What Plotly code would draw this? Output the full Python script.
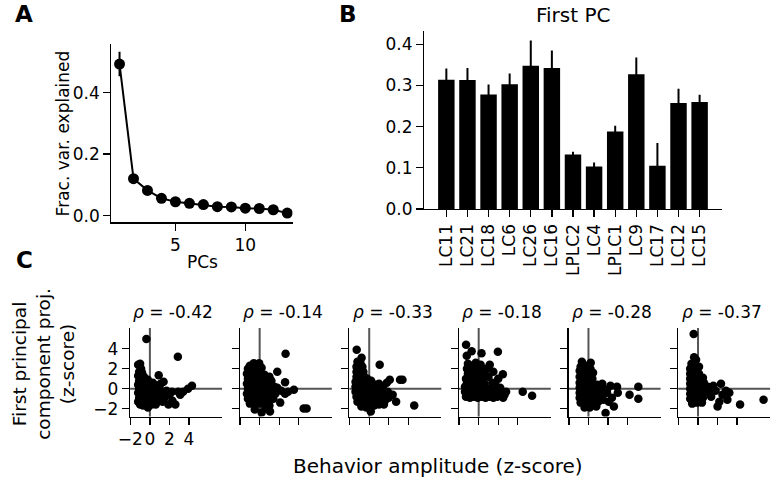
import plotly.graph_objects as go

W, H = 771, 487
FONT = "DejaVu Sans"

# ---------------- data ----------------
pcs = list(range(1, 14))
frac_var = [0.493, 0.120, 0.082, 0.056, 0.045, 0.040, 0.036, 0.029, 0.028, 0.024, 0.023, 0.019, 0.008]
frac_err = [0.040, 0.008, 0.005, 0.004, 0.003, 0.003, 0.002, 0.002, 0.002, 0.002, 0.002, 0.002, 0.002]

cell_types = ["LC11", "LC21", "LC18", "LC6", "LC26", "LC16", "LPLC2", "LC4", "LPLC1", "LC9", "LC17", "LC12", "LC15"]
first_pc = [0.3135, 0.313, 0.278, 0.303, 0.348, 0.342, 0.132, 0.103, 0.188, 0.327, 0.105, 0.257, 0.2595]
first_pc_err = [0.0275, 0.029, 0.024, 0.026, 0.061, 0.043, 0.007, 0.010, 0.014, 0.041, 0.055, 0.035, 0.0175]

rho_labels = ["-0.42", "-0.14", "-0.33", "-0.18", "-0.28", "-0.37"]

s1 = [(-1.2,2.4),(-1.0,2.5),(-0.9,2.0),(-1.1,1.7),(-0.8,1.6),(-1.2,1.3),(-0.9,1.1),(-0.6,1.2),(-1.1,0.8),(-0.8,0.7),
      (-0.5,0.8),(-0.2,0.9),(-1.2,0.4),(-0.9,0.3),(-0.6,0.4),(-0.3,0.3),(0.0,0.5),(0.3,0.6),(-1.1,0.0),(-0.8,-0.1),
      (-0.5,0.0),(-0.2,-0.1),(0.1,0.1),(0.4,0.2),(0.7,0.3),(-1.2,-0.4),(-0.9,-0.5),(-0.6,-0.4),(-0.3,-0.5),(0.0,-0.3),
      (0.3,-0.4),(0.6,-0.2),(-1.1,-0.9),(-0.8,-0.8),(-0.5,-0.9),(-0.2,-0.8),(0.1,-0.7),(0.4,-0.8),(0.8,-0.6),(-1.2,-1.3),
      (-0.9,-1.2),(-0.6,-1.3),(-0.3,-1.2),(0.0,-1.1),(0.3,-1.3),(-1.0,-1.6),(-0.7,-1.7),(-0.4,-1.6),(-0.2,-1.9),(0.2,-1.6),
      (0.6,-1.6),(0.9,1.35),(1.4,0.7),(1.0,0.0),(1.2,-0.4),(1.5,-0.9),(1.3,-1.3),(1.9,-1.6),(2.6,-1.6),(2.3,-1.2),
      (2.0,-0.6),(2.25,-0.3),(2.9,-0.3),(3.1,-0.6),(3.4,-0.3),(3.9,0.0),(4.3,0.3),(1.7,-0.2),(0.9,-1.0),(1.1,0.5),
      (-0.36,5.0),(2.86,3.2)]
s2 = [(-1.0,2.3),(-0.6,2.55),(-0.05,2.55),(-1.2,2.0),(-0.8,1.9),(-0.3,2.0),(0.2,2.1),(-1.3,1.5),(-0.9,1.4),(-0.5,1.5),
      (0.0,1.6),(0.5,1.4),(1.0,1.2),(1.8,1.7),(-1.2,1.0),(-0.8,0.9),(-0.4,1.0),(0.1,1.0),(0.6,0.9),(1.2,0.8),
      (-1.3,0.5),(-0.9,0.4),(-0.5,0.5),(0.0,0.4),(0.5,0.5),(1.0,0.3),(1.5,0.2),(-1.2,0.0),(-0.8,-0.1),(-0.3,0.0),
      (0.2,-0.1),(0.7,0.0),(1.3,-0.2),(1.8,0.1),(-1.3,-0.5),(-0.9,-0.5),(-0.4,-0.6),(0.1,-0.5),(0.6,-0.6),(1.1,-0.7),
      (1.6,-0.5),(-1.2,-1.0),(-0.7,-1.1),(-0.2,-1.0),(0.3,-1.1),(0.8,-1.2),(1.4,-1.0),(-1.0,-1.5),(-0.5,-1.6),(0.0,-1.5),
      (0.5,-1.6),(1.0,-1.7),(-0.5,-2.1),(0.2,-2.4),(1.06,-2.3),(0.6,-2.0),(2.6,0.65),(3.5,-0.1),(2.9,-0.3),(2.6,-0.5),
      (2.1,-1.4),(2.2,-0.2),(2.65,3.5),(4.5,-2.0),(4.8,-2.0)]
s3 = [(-1.28,3.9),(-0.78,3.1),(1.07,2.4),(3.15,0.9),(3.4,0.9),(4.6,-1.7),(0.16,-2.3),(-1.2,2.7),(-0.9,2.6),(-1.3,2.2),
      (-1.0,2.1),(-0.7,2.2),(-1.3,1.7),(-1.0,1.6),(-0.6,1.7),(-1.3,1.2),(-0.9,1.1),(-0.5,1.2),(-0.2,1.0),(-1.4,0.7),
      (-1.0,0.6),(-0.6,0.7),(-0.2,0.6),(0.2,0.8),(-1.4,0.2),(-1.0,0.1),(-0.6,0.2),(-0.2,0.1),(0.2,0.3),(0.6,0.4),
      (1.0,0.5),(-1.4,-0.3),(-1.0,-0.4),(-0.6,-0.3),(-0.2,-0.4),(0.2,-0.2),(0.6,-0.1),(1.0,0.0),(1.4,0.2),(1.8,0.6),
      (2.1,0.9),(-1.3,-0.8),(-0.9,-0.9),(-0.5,-0.8),(-0.1,-0.9),(0.3,-0.7),(0.7,-0.6),(1.1,-0.5),(1.5,-0.4),(1.9,-0.3),
      (-1.2,-1.3),(-0.8,-1.4),(-0.4,-1.3),(0.0,-1.4),(0.4,-1.2),(0.8,-1.1),(1.2,-1.0),(1.6,-1.2),(2.0,-0.9),(-0.8,-1.8),
      (-0.3,-1.9),(0.5,-1.7),(1.0,-1.6),(1.5,-1.6),(2.4,-0.6),(2.75,-1.3)]
s4 = [(-1.29,4.4),(-0.72,3.75),(-1.22,3.3),(0.29,3.55),(1.96,3.7),(1.13,2.4),(2.47,1.45),(4.5,-0.3),(5.46,-0.7),(2.64,-0.6),
      (-1.1,2.5),(-0.7,2.3),(-0.3,2.6),(0.2,2.4),(-1.2,2.0),(-0.8,1.9),(-0.3,2.0),(0.3,1.9),(-1.1,1.5),(-0.6,1.4),
      (0.0,1.5),(0.6,1.6),(-1.3,1.0),(-0.8,1.0),(-0.2,1.1),(0.4,1.0),(1.0,1.2),(-1.2,0.6),(-0.6,0.5),(0.0,0.6),
      (0.6,0.5),(1.4,0.6),(-1.4,0.2),(-1.0,0.1),(-0.6,0.2),(-0.2,0.1),(0.2,0.2),(0.6,0.1),(1.0,0.0),(1.4,0.1),
      (1.8,0.0),(2.2,0.1),(-1.4,-0.3),(-1.0,-0.4),(-0.6,-0.3),(-0.2,-0.4),(0.2,-0.3),(0.6,-0.4),(1.0,-0.3),(1.4,-0.4),
      (1.8,-0.5),(2.2,-0.4),(2.8,-0.3),(-1.3,-0.8),(-0.9,-0.9),(-0.5,-0.8),(-0.1,-0.9),(0.3,-0.8),(0.7,-0.9),(1.1,-0.8),
      (1.5,-0.9),(1.9,-0.8),(2.5,-0.9),(1.5,1.7),(0.8,2.0),(2.0,1.0),(1.7,0.4)]
s5 = [(-0.67,2.7),(0.23,2.6),(-0.8,2.2),(-0.3,2.3),(0.2,2.0),(-0.9,1.8),(-0.5,1.7),(0.0,1.6),(0.47,1.6),(-0.9,1.2),
      (-0.5,1.1),(-0.1,1.2),(0.4,1.0),(-0.9,0.6),(-0.5,0.7),(-0.1,0.5),(0.4,0.6),(0.9,0.4),(-0.9,0.1),(-0.5,0.0),
      (-0.1,0.1),(0.4,0.0),(0.9,0.1),(1.41,0.5),(-0.9,-0.4),(-0.5,-0.5),(-0.1,-0.4),(0.4,-0.5),(0.9,-0.3),(1.4,-0.2),
      (-0.9,-0.9),(-0.5,-1.0),(-0.1,-0.9),(0.4,-1.0),(0.9,-0.8),(1.4,-0.7),(1.9,-0.4),(-0.8,-1.4),(-0.4,-1.5),(0.0,-1.4),
      (0.5,-1.5),(1.0,-1.3),(1.5,-1.1),(-0.4,-1.9),(0.13,-1.9),(0.8,-1.8),(2.25,0.3),(2.92,0.2),(3.0,-0.4),(4.2,-0.6),
      (5.1,0.2),(5.1,-1.0),(2.6,-1.8),(1.75,-2.45),(2.08,-1.3),(2.4,-0.9),(1.9,-0.1)]
s6 = [(-0.44,5.5),(-0.4,3.15),(-0.67,2.5),(-0.2,2.9),(-0.8,2.0),(-0.4,2.1),(0.1,2.2),(-0.8,1.5),(-0.4,1.6),(0.1,1.5),
      (-0.8,1.0),(-0.4,1.1),(0.1,1.0),(0.5,1.1),(-0.8,0.5),(-0.4,0.6),(0.1,0.5),(0.6,0.6),(-0.8,0.0),(-0.4,0.1),
      (0.1,0.0),(0.6,0.1),(1.0,0.2),(-0.8,-0.5),(-0.4,-0.4),(0.1,-0.5),(0.6,-0.4),(1.0,-0.3),(-0.8,-1.0),(-0.4,-1.1),
      (0.1,-1.0),(0.5,-0.9),(-0.6,-1.5),(-0.1,-1.4),(0.4,-1.4),(1.57,0.3),(2.35,0.5),(2.85,-0.2),(3.2,-0.4),(1.34,-0.8),
      (2.18,-1.3),(2.0,-1.8),(3.0,-1.1),(4.3,-1.6),(6.7,-1.1),(1.8,-0.2),(2.5,-0.6),(1.2,0.0)]
scatter_sets = [s1, s2, s3, s4, s5, s6]

# ---------------- helpers ----------------
def fx(px):
    return px / W

def fy(py):
    return 1 - py / H

def base_axis(**kw):
    d = dict(showline=True, linecolor="black", linewidth=1.3, ticks="outside", ticklen=7,
             tickwidth=1.3, tickcolor="black", showgrid=False, zeroline=False,
             tickfont=dict(family=FONT, size=17, color="black"))
    d.update(kw)
    return d

fig = go.Figure()
layout = dict(width=W, height=H, margin=dict(l=0, r=0, t=0, b=0), showlegend=False,
              plot_bgcolor="white", paper_bgcolor="white",
              font=dict(family=FONT, color="black"))

# Panel A
fig.add_trace(go.Scatter(x=pcs, y=frac_var, mode="lines+markers", xaxis="x", yaxis="y",
                         line=dict(color="black", width=2),
                         marker=dict(color="black", size=11),
                         error_y=dict(type="data", array=frac_err, color="black", thickness=2, width=0)))
layout["xaxis"] = base_axis(domain=[fx(101), fx(285)], range=[0.42, 13.38], tickvals=[5, 10],
                            tickangle=0, anchor="y")
layout["yaxis"] = base_axis(domain=[fy(227), fy(45)], range=[-0.022, 0.558], tickvals=[0, 0.2, 0.4],
                            tickformat=".1f", anchor="x")

# Panel B
fig.add_trace(go.Bar(x=cell_types, y=first_pc, xaxis="x2", yaxis="y2", marker=dict(color="black", line=dict(width=0)),
                     width=0.78,
                     error_y=dict(type="data", array=first_pc_err, color="black", thickness=2, width=0)))
layout["xaxis2"] = base_axis(domain=[fx(418.7), fx(721)], range=[-1.05, 13.05], type="category",
                             tickangle=-90, anchor="y2")
layout["yaxis2"] = base_axis(domain=[fy(213.3), fy(31.7)], range=[0, 0.432], tickvals=[0, 0.1, 0.2, 0.3, 0.4],
                             tickformat=".1f", anchor="x2")

# Panel C
x_starts = [120, 231.5, 342.8, 454, 565.5, 676.8]
shapes = []
annotations = []
for i, (pts, x0) in enumerate(zip(scatter_sets, x_starts)):
    n = i + 3
    xs = [p[0] for p in pts]
    ys = [p[1] for p in pts]
    fig.add_trace(go.Scatter(x=xs, y=ys, mode="markers", xaxis=f"x{n}", yaxis=f"y{n}",
                             marker=dict(color="black", size=8.5, line=dict(width=0))))
    layout[f"xaxis{n}"] = base_axis(domain=[fx(x0), fx(x0 + 93.3)], range=[-2.02, 7.37], tickvals=[-2, 0, 2, 4],
                                    tickangle=0, showticklabels=(i == 0), anchor=f"y{n}")
    layout[f"yaxis{n}"] = base_axis(domain=[fy(425.3), fy(335)], range=[-2.8, 6.08], tickvals=[-2, 0, 2, 4],
                                    showticklabels=(i == 0), anchor=f"x{n}")
    shapes.append(dict(type="line", xref=f"x{n}", yref=f"y{n} domain", x0=0, x1=0, y0=0, y1=1,
                       line=dict(color="#555555", width=2), layer="below"))
    shapes.append(dict(type="line", xref=f"x{n} domain", yref=f"y{n}", x0=0, x1=1, y0=0, y1=0,
                       line=dict(color="#555555", width=2), layer="below"))
    annotations.append(dict(x=fx(x0 + 44), y=fy(319), xref="paper", yref="paper",
                            text=f"<i>ρ</i> = {rho_labels[i]}", showarrow=False,
                            font=dict(family=FONT, size=17, color="black"),
                            xanchor="center", yanchor="middle"))

def txt(px, py, text, size, angle=0, bold=False, xanchor="center"):
    return dict(x=fx(px), y=fy(py), xref="paper", yref="paper", text=(f"<b>{text}</b>" if bold else text),
                showarrow=False, textangle=angle, xanchor=xanchor, yanchor="middle",
                font=dict(family=FONT, size=size, color="black"))

annotations += [
    txt(12, 14, "A", 23, bold=True),
    txt(341, 14, "B", 23, bold=True),
    txt(13, 265, "C", 23, bold=True),
    txt(52, 136, "Frac. var. explained", 17, angle=-90),
    txt(194, 268, "PCs", 17),
    txt(570, 15, "First PC", 20),
    txt(32, 372, "First principal<br>component proj.<br>(z-score)", 18.5, angle=-90),
    txt(433, 476, "Behavior amplitude (z-score)", 20),
]

layout["shapes"] = shapes
layout["annotations"] = annotations
fig.update_layout(**layout)
fig.write_html("out.html",
               config={"displayModeBar": False, "staticPlot": True},
               post_script="document.body.style.margin='0';document.body.style.padding='0';"
                           "document.documentElement.style.overflow='hidden';")
